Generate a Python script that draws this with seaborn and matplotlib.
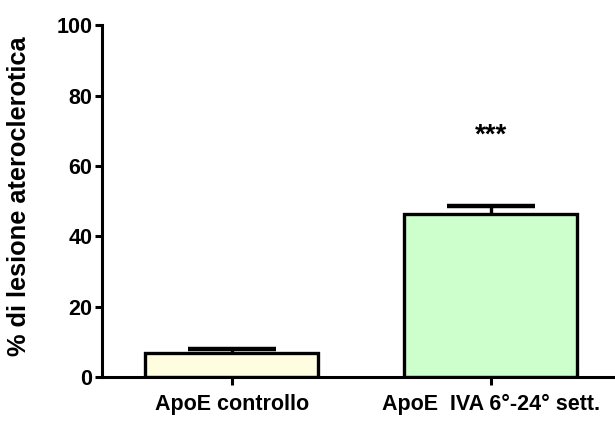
import matplotlib
matplotlib.use("Agg")
import matplotlib.pyplot as plt
import seaborn as sns
import pandas as pd

groups = ["ApoE controllo", "ApoE  IVA 6°-24° sett."]
means = [7.0, 46.3]
sem = [1.0, 2.2]
colors = ["#FFFDE0", "#CCFFCC"]
significance = ["", "***"]

sns.set_theme(style="ticks")
plt.rcParams["font.family"] = ["Liberation Sans", "DejaVu Sans"]
plt.rcParams["font.weight"] = "bold"
plt.rcParams["text.color"] = "black"
plt.rcParams["xtick.color"] = "black"
plt.rcParams["ytick.color"] = "black"
plt.rcParams["axes.labelcolor"] = "black"

df = pd.DataFrame({"group": groups, "value": means})

fig = plt.figure(figsize=(6.15, 4.33), dpi=100)
ax = fig.add_axes([0.166, 0.129, 0.834, 0.813])

sns.barplot(data=df, x="group", y="value", hue="group", palette=colors,
            legend=False, width=0.67, edgecolor="black", linewidth=2.4,
            saturation=1, errorbar=None, ax=ax, zorder=2)

# upward-only error bars with caps at half the bar width
for i, (m, e) in enumerate(zip(means, sem)):
    ax.vlines(i, m, m + e, color="black", linewidth=2.4, zorder=3)
    ax.hlines(m + e, i - 0.17, i + 0.17, color="black", linewidth=3.2, zorder=3)
    if significance[i]:
        ax.text(i, 68.5, significance[i], ha="center", va="center",
                fontsize=20, fontweight="bold")

ax.set_ylim(0, 100)
ax.set_xlim(-0.5, 1.48)
ax.set_yticks([0, 20, 40, 60, 80, 100])
ax.set_xlabel("")
ax.set_ylabel("% di lesione ateroclerotica", fontsize=18.3, fontweight="bold")
ax.yaxis.set_label_coords(-0.138, 0.515)
ax.tick_params(axis="y", labelsize=15.5, width=2.2, length=5, pad=2)
ax.tick_params(axis="x", labelsize=15.5, width=2.2, length=6, pad=6)
for lbl in ax.get_xticklabels() + ax.get_yticklabels():
    lbl.set_fontweight("bold")

for side in ["top", "right"]:
    ax.spines[side].set_visible(False)
for side in ["left", "bottom"]:
    ax.spines[side].set_linewidth(2.2)
    ax.spines[side].set_color("black")

fig.savefig("out.png", dpi=100)
